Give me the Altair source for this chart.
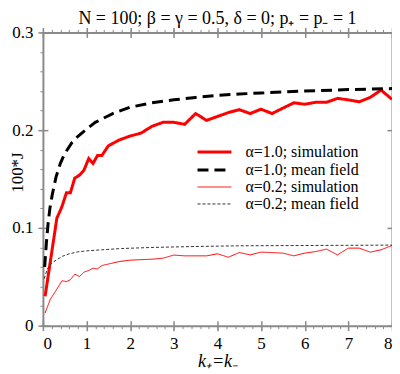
import altair as alt
import pandas as pd

# ---- data ----
series_names = ["α=1.0; simulation", "α=1.0; mean field",
                "α=0.2; simulation", "α=0.2; mean field"]

k_sim10 = [0.05, 0.32, 0.43, 0.54, 0.63, 0.73, 0.84, 0.94, 1.05, 1.15, 1.25, 1.35, 1.5,
           1.75, 2.0, 2.25, 2.5, 2.75, 3.0, 3.25, 3.5, 3.75, 4.0, 4.25, 4.5, 4.75, 5.0,
           5.25, 5.5, 5.75, 6.0, 6.25, 6.5, 6.75, 7.0, 7.25, 7.5, 7.75, 8.0]
j_sim10 = [0.030, 0.110, 0.121, 0.136, 0.136, 0.151, 0.154, 0.159, 0.171, 0.166, 0.174, 0.174, 0.184,
           0.190, 0.194, 0.197, 0.204, 0.208, 0.208, 0.206, 0.217, 0.210, 0.214, 0.218, 0.221, 0.217, 0.2215,
           0.217, 0.2225, 0.228, 0.2265, 0.2285, 0.2285, 0.2325, 0.231, 0.229, 0.2335, 0.241, 0.2315]

k_mf10 = [0.04, 0.08, 0.12, 0.16, 0.21, 0.3, 0.4, 0.5, 0.66, 0.81, 1.0, 1.2, 1.6, 2.0,
          2.5, 3.0, 3.5, 4.0, 4.5, 5.0, 6.0, 7.0, 8.0]
j_mf10 = [0.060, 0.085, 0.105, 0.120, 0.133, 0.152, 0.166, 0.176, 0.187, 0.194, 0.201, 0.208, 0.217, 0.2235,
          0.228, 0.231, 0.2335, 0.2355, 0.237, 0.238, 0.240, 0.2415, 0.2425]

k_sim02 = [0.05, 0.17, 0.30, 0.44, 0.54, 0.63, 0.73, 0.84, 0.94, 1.05, 1.15, 1.25, 1.35, 1.5,
           1.75, 2.0, 2.25, 2.5, 2.75, 3.0, 3.25, 3.5, 3.75, 4.0, 4.25, 4.5, 4.75, 5.0,
           5.25, 5.5, 5.75, 6.0, 6.25, 6.5, 6.75, 7.0, 7.25, 7.5, 7.75, 8.0]
j_sim02 = [0.013, 0.027, 0.036, 0.046, 0.045, 0.047, 0.0527, 0.0503, 0.0548, 0.0564, 0.0588, 0.058, 0.0615, 0.063,
           0.0656, 0.067, 0.0675, 0.068, 0.069, 0.0722, 0.0714, 0.0714, 0.0714, 0.0735, 0.0700, 0.0748, 0.0724, 0.0752,
           0.0748, 0.0742, 0.0714, 0.0742, 0.0758, 0.0783, 0.0724, 0.0793, 0.0793, 0.0752, 0.0776, 0.082]

k_mf02 = [0.03, 0.1, 0.2, 0.3, 0.45, 0.6, 0.8, 1.0, 1.35, 1.8, 2.5, 3.5, 4.5, 6.0, 8.0]
j_mf02 = [0.048, 0.058, 0.064, 0.067, 0.071, 0.0735, 0.0755, 0.0765, 0.0776, 0.0789, 0.080, 0.081, 0.0817, 0.082, 0.0824]

x_major = [0, 1, 2, 3, 4, 5, 6, 7, 8]
x_minor = [round(i * 0.2, 1) for i in range(41)]
y_major = [0, 0.1, 0.2, 0.3]
y_minor = [round(i * 0.02, 2) for i in range(16)]

colors = ["#ff0000", "#000000", "#ff0000", "#333333"]
dashes = [[1, 0], [11, 6], [1, 0], [3, 2]]
widths = [3, 3, 1, 1]

rows = []
for name, ks, js in zip(series_names, [k_sim10, k_mf10, k_sim02, k_mf02],
                        [j_sim10, j_mf10, j_sim02, j_mf02]):
    for i, (k, j) in enumerate(zip(ks, js)):
        rows.append({"series": name, "k": k, "J": j, "order": i})
df = pd.DataFrame(rows)

FONT = "Times New Roman, Liberation Serif, Tinos, serif"
GREY = "#8a8a8a"
xscale = alt.Scale(domain=[0, 8], nice=False, zero=False)
yscale = alt.Scale(domain=[0, 0.3], nice=False, zero=False)

def tick_axis(orient, values, size, offset=0, domain=False, width=1):
    return alt.Axis(orient=orient, values=values, tickSize=size, offset=offset,
                    labels=False, title=None, grid=False, domain=domain,
                    domainColor=GREY, domainWidth=2, tickColor=GREY, tickWidth=width)

legend = alt.Legend(title=None)

lines = alt.Chart(df).mark_line(clip=True).encode(
    x=alt.X("k:Q", scale=xscale, axis=alt.Axis(
        orient="bottom", values=x_major, tickSize=5, tickWidth=1.5, tickColor=GREY,
        domainColor=GREY, domainWidth=2, grid=False, format="~g",
        labelFont=FONT, labelFontSize=17, labelColor="black", labelPadding=5,
        title="k₊=k₋", titleFont=FONT, titleFontSize=18, titleFontStyle="italic",
        titleFontWeight="normal", titleColor="black", titleBaseline="alphabetic",
        titleY=41, titleX=175, titleAlign="center")),
    y=alt.Y("J:Q", scale=yscale, axis=alt.Axis(
        orient="left", values=y_major, tickSize=5, tickWidth=1.5, tickColor=GREY,
        domainColor=GREY, domainWidth=2, grid=False, format="~g",
        labelFont=FONT, labelFontSize=17, labelColor="black", labelPadding=5,
        title="100*J", titleFont=FONT, titleFontSize=17, titleFontWeight="normal",
        titleColor="black", titleBaseline="alphabetic", titleAngle=270,
        titleX=-20, titleY=140, titleAlign="center")),
    color=alt.Color("series:N", scale=alt.Scale(domain=series_names, range=colors), legend=legend),
    strokeDash=alt.StrokeDash("series:N", scale=alt.Scale(type="ordinal", domain=series_names, range=dashes), legend=legend),
    strokeWidth=alt.StrokeWidth("series:N", scale=alt.Scale(type="ordinal", domain=series_names, range=widths), legend=legend),
    order=alt.Order("order:Q"),
)

def ghost(xaxis, yaxis):
    return alt.Chart(df).mark_point(opacity=0).encode(
        x=alt.X("k:Q", scale=xscale, axis=xaxis),
        y=alt.Y("J:Q", scale=yscale, axis=yaxis),
    )

layers = [
    lines,
    ghost(tick_axis("bottom", x_minor, 3), tick_axis("left", y_minor, 3)),
    ghost(tick_axis("bottom", x_major, 5, offset=-5, width=1.5), tick_axis("left", y_major, 5, offset=-5, width=1.5)),
    ghost(tick_axis("top", x_major, 5, domain=True, width=1.5), tick_axis("right", y_major, 5, domain=True, width=1.5)),
    ghost(tick_axis("top", x_minor, 3), tick_axis("right", y_minor, 3)),
    ghost(tick_axis("top", x_major, 5, offset=-5, width=1.5), tick_axis("right", y_major, 5, offset=-5, width=1.5)),
]

chart = alt.layer(*layers).resolve_axis(x="independent", y="independent").properties(
    width=350, height=294,
    autosize=alt.AutoSizeParams(type="none"),
    padding={"left": 35, "top": 24, "right": 0, "bottom": 48},
    title=alt.TitleParams("N = 100; β = γ = 0.5, δ = 0; p₊ = p₋ = 1", font=FONT, fontSize=18,
                          fontWeight="normal", color="black", anchor="middle",
                          baseline="alphabetic", offset=-2, dy=17),
).configure_view(strokeWidth=0).configure_legend(
    orient="none", legendX=162, legendY=110, symbolType="M-2,0H2", symbolSize=289,
    labelFont=FONT, labelFontSize=16, labelColor="black", rowPadding=0, padding=0,
    labelOffset=21, symbolOffset=0,
)

chart.save("out.html", embed_options={"renderer": "svg", "actions": False})
